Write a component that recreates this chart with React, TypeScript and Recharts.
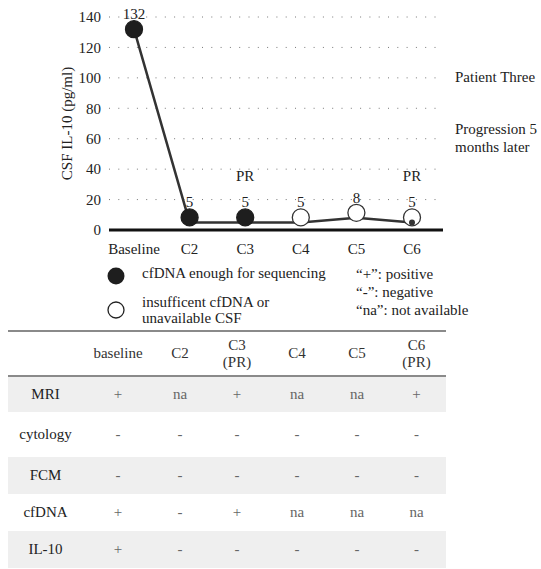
import { LineChart, Line, XAxis, YAxis, CartesianGrid, LabelList, ReferenceDot } from "recharts";

const cycles = ["Baseline", "C2", "C3", "C4", "C5", "C6"];
const il10 = [132, 5, 5, 5, 8, 5];
const markerKind = ["filled", "filled", "filled", "open", "open", "openDot"];
const response = ["", "", "PR", "", "", "PR"];
const yTicks = [0, 20, 40, 60, 80, 100, 120, 140];

const tableHeader = ["baseline", "C2", "C3\n(PR)", "C4", "C5", "C6\n(PR)"];
const rowLabels = ["MRI", "cytology", "FCM", "cfDNA", "IL-10"];
const mriRow = ["+", "na", "+", "na", "na", "+"];
const cytologyRow = ["-", "-", "-", "-", "-", "-"];
const fcmRow = ["-", "-", "-", "-", "-", "-"];
const cfdnaRow = ["+", "-", "+", "na", "na", "na"];
const il10Row = ["+", "-", "-", "-", "-", "-"];
const tableRows = [mriRow, cytologyRow, fcmRow, cfdnaRow, il10Row];

const data = cycles.map((c, i) => ({ cycle: c, value: il10[i], kind: markerKind[i] }));

const FONT = "Liberation Serif, Times New Roman, DejaVu Serif, serif";
const INK = "#222";

// circles sit on top of the line for the low values
const liftFor = (v: number) => (v < 50 ? 5 : 0);

function Marker(props: any) {
  const { cx, cy, payload, index } = props;
  if (cx == null || cy == null) return null;
  const lift = liftFor(payload.value);
  const open = payload.kind !== "filled";
  return (
    <g key={`m-${index}`}>
      <circle
        cx={cx}
        cy={cy - lift}
        r={8.5}
        fill={open ? "#fff" : "#1e1e1e"}
        stroke={open ? "#333" : "#1e1e1e"}
        strokeWidth={1.3}
      />
      {payload.kind === "openDot" && <circle cx={cx} cy={cy} r={3} fill="#333" />}
    </g>
  );
}

function ValueLabel(props: any) {
  const { x, y, value } = props;
  const off = 15 + liftFor(value);
  return (
    <text x={x} y={y - off} textAnchor="middle" dominantBaseline="central" fontSize={15} fill={INK} style={{ fontFamily: FONT }}>
      {value}
    </text>
  );
}

const widths = [75, 70, 54, 60, 60, 60, 59];
const rowHeights = [36, 45, 37, 37, 37];
const tickStyle = { fontSize: 15, fill: INK, style: { fontFamily: FONT } };

export default function App() {
  return (
    <div style={{ position: "absolute", left: 0, top: 0, width: 541, height: 569, background: "#fff", fontFamily: FONT, color: INK, overflow: "hidden" }}>
      <div style={{ position: "absolute", left: 0, top: 0, fontFamily: FONT }}>
        <LineChart width={541} height={262} data={data} margin={{ top: 17, right: 98, left: 59, bottom: 0 }} style={{ fontFamily: FONT }}>
          <CartesianGrid horizontal vertical={false} stroke="#777" strokeDasharray="1 8.3" />
          <XAxis
            dataKey="cycle"
            padding={{ left: 25, right: 31 }}
            axisLine={{ stroke: "#111", strokeWidth: 3 }}
            tickLine={false}
            tickMargin={7}
            height={32}
            tick={tickStyle}
            interval={0}
          />
          <YAxis
            width={50}
            domain={[0, 140]}
            ticks={yTicks}
            axisLine={false}
            tickLine={false}
            tick={tickStyle}
            label={{ value: "CSF IL-10 (pg/ml)", angle: -90, position: "insideLeft", offset: 8, style: { fontSize: 15, fill: INK, fontFamily: FONT, textAnchor: "middle" } }}
          />
          {response.map((r, i) =>
            r ? (
              <ReferenceDot
                key={cycles[i]}
                x={cycles[i]}
                y={36}
                r={0}
                fill="none"
                stroke="none"
                label={{ value: r, position: "center", style: { fontSize: 15, fill: INK, fontFamily: FONT } }}
              />
            ) : null
          )}
          <Line
            dataKey="value"
            type="linear"
            stroke="#333"
            strokeWidth={2.5}
            dot={<Marker />}
            activeDot={false}
            isAnimationActive={false}
          >
            <LabelList dataKey="value" content={<ValueLabel />} />
          </Line>
        </LineChart>
      </div>

      <div style={{ position: "absolute", left: 455, top: 68, fontSize: 15, lineHeight: "18px" }}>Patient Three</div>
      <div style={{ position: "absolute", left: 455, top: 120, fontSize: 15, lineHeight: "18px" }}>
        Progression 5<br />months later
      </div>

      {/* legend */}
      <svg style={{ position: "absolute", left: 0, top: 0 }} width={541} height={340}>
        <circle cx={116} cy={276} r={8.5} fill="#1e1e1e" />
        <circle cx={116} cy={310} r={8} fill="#fff" stroke="#222" strokeWidth={1.3} />
      </svg>
      <div style={{ position: "absolute", left: 142, top: 264, fontSize: 15, lineHeight: "18px", whiteSpace: "nowrap" }}>cfDNA enough for sequencing</div>
      <div style={{ position: "absolute", left: 142, top: 294, fontSize: 15, lineHeight: "16px", whiteSpace: "nowrap" }}>
        insufficent cfDNA or<br />unavailable CSF
      </div>
      <div style={{ position: "absolute", left: 356, top: 265, fontSize: 15, lineHeight: "18px", whiteSpace: "nowrap" }}>
        “+”: positive<br />“-”: negative<br />“na”: not available
      </div>

      {/* table */}
      <table
        style={{
          position: "absolute",
          left: 8,
          top: 330,
          width: 438,
          borderCollapse: "collapse",
          fontSize: 15,
          fontFamily: FONT,
          tableLayout: "fixed",
          borderTop: "2px solid #8a8a8a",
        }}
      >
        <colgroup>
          {widths.map((w, i) => (
            <col key={i} style={{ width: w }} />
          ))}
        </colgroup>
        <thead>
          <tr style={{ height: 45, borderBottom: "2px solid #8a8a8a" }}>
            <th />
            {tableHeader.map((h) => (
              <th key={h} style={{ fontWeight: "normal", textAlign: "center", lineHeight: "17px", color: "#333", whiteSpace: "pre", padding: 0 }}>
                {h}
              </th>
            ))}
          </tr>
        </thead>
        <tbody>
          {tableRows.map((row, r) => (
            <tr key={rowLabels[r]} style={{ height: rowHeights[r], background: r % 2 === 0 ? "#efefef" : "#fff" }}>
              <td style={{ textAlign: "center", padding: 0, color: INK }}>{rowLabels[r]}</td>
              {row.map((v, c) => (
                <td key={c} style={{ textAlign: "center", padding: 0, color: "#666" }}>
                  {v}
                </td>
              ))}
            </tr>
          ))}
        </tbody>
      </table>
    </div>
  );
}
